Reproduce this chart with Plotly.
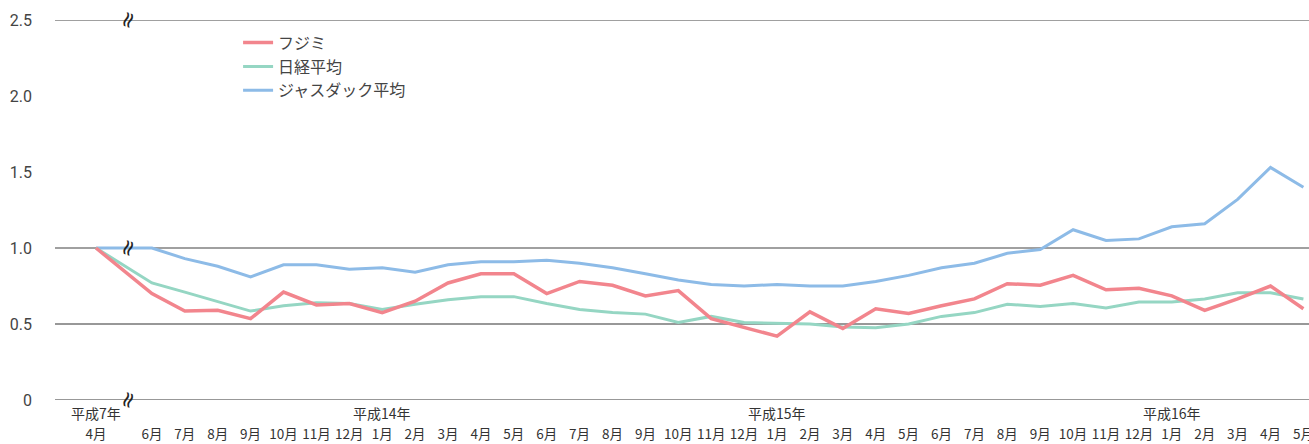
import plotly.graph_objects as go

# ---- data ----
month_labels = ["4月", "6月", "7月", "8月", "9月", "10月", "11月", "12月",
                "1月", "2月", "3月", "4月", "5月", "6月", "7月", "8月", "9月", "10月", "11月", "12月",
                "1月", "2月", "3月", "4月", "5月", "6月", "7月", "8月", "9月", "10月", "11月", "12月",
                "1月", "2月", "3月", "4月", "5月"]
year_labels = {0: "平成7年", 8: "平成14年", 20: "平成15年", 32: "平成16年"}

fujimi = [1.00, 0.70, 0.585, 0.59, 0.535, 0.71, 0.625, 0.635,
          0.575, 0.65, 0.77, 0.83, 0.83, 0.70, 0.78, 0.755, 0.685, 0.72, 0.535, 0.48, 0.42, 0.58, 0.47, 0.60, 0.57, 0.62,
          0.665, 0.765, 0.755, 0.82, 0.725, 0.735, 0.685, 0.59, 0.665, 0.75, 0.60]
nikkei = [1.00, 0.77, 0.71, 0.645, 0.585, 0.62, 0.64, 0.635,
          0.595, 0.63, 0.66, 0.68, 0.68, 0.635, 0.595, 0.575, 0.565, 0.51, 0.55, 0.51, 0.505, 0.50, 0.48, 0.475, 0.50, 0.55,
          0.575, 0.63, 0.615, 0.635, 0.605, 0.645, 0.645, 0.665, 0.705, 0.705, 0.665]
jasdaq = [1.00, 1.00, 0.93, 0.88, 0.81, 0.89, 0.89, 0.86,
          0.87, 0.84, 0.89, 0.91, 0.91, 0.92, 0.90, 0.87, 0.83, 0.79, 0.76, 0.75, 0.76, 0.75, 0.75, 0.78, 0.82, 0.87,
          0.90, 0.965, 0.99, 1.12, 1.05, 1.06, 1.14, 1.16, 1.32, 1.53, 1.40]

series_names = ["フジミ", "日経平均", "ジャスダック平均"]
series_colors = ["#f2858d", "#95d6c3", "#8dbbe7"]

y_ticks = [0, 0.5, 1.0, 1.5, 2.0, 2.5]
y_tick_text = ["0", "0.5", "1.0", "1.5", "2.0", "2.5"]

# axis break between first point and the rest
BREAK_GAP = 1.7
xs = [0.0] + [BREAK_GAP + i for i in range(len(month_labels) - 1)]
break_x = 0.94

fig = go.Figure()
for name, vals, color, width in [
    (series_names[2], jasdaq, series_colors[2], 3),
    (series_names[1], nikkei, series_colors[1], 3),
    (series_names[0], fujimi, series_colors[0], 3.5),
]:
    fig.add_trace(go.Scatter(x=xs, y=vals, mode="lines", name=name,
                             line=dict(color=color, width=width)))

# gridlines
for yv, col, w in [(2.5, "#808080", 1.5), (1.0, "#808080", 1.5), (0.5, "#333333", 1.2), (0, "#333333", 1.2)]:
    fig.add_shape(type="line", xref="paper", yref="y", x0=0, x1=1, y0=yv, y1=yv,
                  line=dict(color=col, width=w), layer="below")

# break marks
for yv in [2.5, 1.0, 0]:
    fig.add_annotation(x=break_x, y=yv, xref="x", yref="y", text="≈", showarrow=False,
                       textangle=-70,
                       font=dict(size=22, color="#222222", family="DejaVu Sans"),
                       xanchor="center", yanchor="middle")

# year labels
for idx, txt in year_labels.items():
    fig.add_annotation(x=xs[idx], y=0, xref="x", yref="y", text=txt, showarrow=False,
                       font=dict(size=14, color="#333333", family="Noto Sans CJK JP"),
                       xanchor="center", yanchor="top", yshift=-1)

fig.update_layout(
    width=1309, height=444,
    margin=dict(l=55, r=0, t=20, b=44),
    paper_bgcolor="white", plot_bgcolor="white",
    showlegend=True,
    legend=dict(x=0.146, y=0.985, xanchor="left", yanchor="top", traceorder="reversed",
                font=dict(size=16, color="#444444", family="Noto Sans CJK JP"),
                bgcolor="rgba(0,0,0,0)", tracegroupgap=0, itemwidth=30),
    xaxis=dict(range=[-1.246, 36.87], tickmode="array", tickvals=xs, ticktext=month_labels,
               showgrid=False, zeroline=False, showline=False, ticks="",
               ticklabelstandoff=24, ticklabeloverflow="allow",
               tickfont=dict(size=13.5, color="#333333", family="Noto Sans CJK JP")),
    yaxis=dict(range=[0, 2.5], tickmode="array", tickvals=y_ticks, ticktext=y_tick_text,
               showgrid=False, zeroline=False, showline=False, ticks="",
               ticklabelposition="outside", ticklabelstandoff=22,
               tickfont=dict(size=16, color="#444444", family="Roboto")),
)
fig.update_yaxes(automargin=False)
fig.update_xaxes(automargin=False)

fig.write_html("out.html", config={"displayModeBar": False},
               post_script="document.body.style.margin='0';document.body.style.overflow='hidden';")
